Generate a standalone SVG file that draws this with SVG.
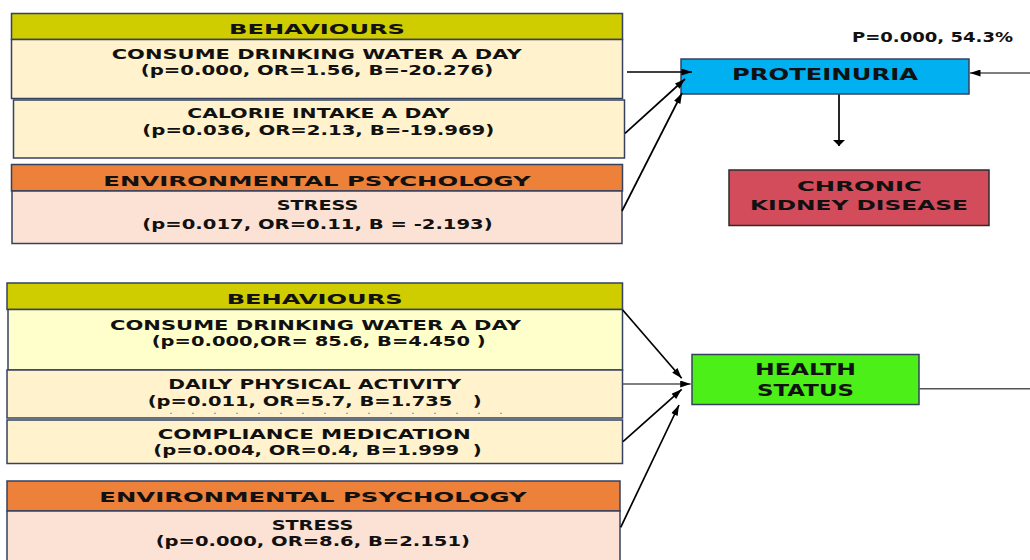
<svg xmlns="http://www.w3.org/2000/svg" width="1030" height="560" viewBox="0 0 1030 560">
<style>
  .box { stroke: #34425f; stroke-width: 1.5; }
  .hdr-b { fill: #cfcc00; }
  .hdr-e { fill: #ed8139; }
  .body-y { fill: #fff2cc; }
  .body-ly { fill: #ffffcc; }
  .body-p { fill: #fbe2d5; }
  text { font-family: "DejaVu Sans", "Liberation Sans", sans-serif; font-weight: bold; fill: #111; font-size: 14.5px; }
  .lg { font-size: 15.5px; }
  .sm { font-size: 13.5px; }
  .conn { stroke: #000; stroke-width: 1.7; fill: none; }
  .conn-g { stroke: #555; stroke-width: 1.4; fill: none; }
</style>
<defs>
  <marker id="ah" viewBox="0 0 12 8" refX="12" refY="4" markerWidth="12" markerHeight="7" markerUnits="userSpaceOnUse" orient="auto">
    <path d="M0,0 L12,4 L0,8 z" fill="#000"/>
  </marker>
  <marker id="ahd" viewBox="0 0 6 12" refX="6" refY="6" markerWidth="6" markerHeight="12" markerUnits="userSpaceOnUse" orient="auto">
    <path d="M0,0 L6,6 L0,12 z" fill="#000"/>
  </marker>
</defs>

<!-- TOP MODEL -->
<g id="top-behaviours">
  <rect class="box hdr-b" x="11.5" y="13.5" width="611" height="26"/>
  <text x="229" y="33.5" textLength="176" lengthAdjust="spacingAndGlyphs">BEHAVIOURS</text>
</g>
<g id="top-water">
  <rect class="box body-y" x="11.5" y="39.5" width="611" height="59"/>
  <text x="111.7" y="59" textLength="410" lengthAdjust="spacingAndGlyphs">CONSUME DRINKING WATER A DAY</text>
  <text x="140.7" y="75" textLength="352.6" lengthAdjust="spacingAndGlyphs">(p=0.000, OR=1.56, B=-20.276)</text>
</g>
<g id="top-calorie">
  <rect class="box body-y" x="13.5" y="100" width="611" height="58"/>
  <text x="187.3" y="117.7" textLength="262.7" lengthAdjust="spacingAndGlyphs">CALORIE INTAKE A DAY</text>
  <text x="142.3" y="134.5" textLength="352" lengthAdjust="spacingAndGlyphs">(p=0.036, OR=2.13, B=-19.969)</text>
</g>
<g id="top-env">
  <rect class="box hdr-e" x="11.5" y="164.5" width="611" height="26.5"/>
  <text x="103.3" y="185.5" textLength="427.4" lengthAdjust="spacingAndGlyphs">ENVIRONMENTAL PSYCHOLOGY</text>
</g>
<g id="top-stress">
  <rect class="box body-p" x="12" y="191" width="610" height="52.5"/>
  <text x="276.7" y="209.5" textLength="81.6" lengthAdjust="spacingAndGlyphs">STRESS</text>
  <text x="142.3" y="229.3" textLength="350.4" lengthAdjust="spacingAndGlyphs" xml:space="preserve">(p=0.017, OR=0.11, B = -2.193)</text>
</g>

<g id="proteinuria-label">
  <text class="sm" x="852" y="41.7" textLength="161" lengthAdjust="spacingAndGlyphs">P=0.000, 54.3%</text>
</g>
<g id="proteinuria">
  <rect class="box" x="681" y="59" width="288" height="35" fill="#00b0f0"/>
  <text class="lg" x="732" y="79.5" textLength="186" lengthAdjust="spacingAndGlyphs">PROTEINURIA</text>
</g>
<g id="ckd">
  <rect x="729" y="170" width="260" height="55.5" fill="#d24c5b" stroke="#2b2b2b" stroke-width="1.5"/>
  <text x="797" y="190.7" textLength="125" lengthAdjust="spacingAndGlyphs">CHRONIC</text>
  <text x="750" y="210" textLength="218" lengthAdjust="spacingAndGlyphs">KIDNEY DISEASE</text>
</g>

<!-- BOTTOM MODEL -->
<g id="bot-behaviours">
  <rect class="box hdr-b" x="7" y="283" width="615.5" height="26.5"/>
  <text x="226.7" y="304" textLength="176" lengthAdjust="spacingAndGlyphs">BEHAVIOURS</text>
</g>
<g id="bot-water">
  <rect class="box body-ly" x="8" y="309.5" width="614.5" height="60.5"/>
  <text x="110" y="329.5" textLength="411" lengthAdjust="spacingAndGlyphs">CONSUME DRINKING WATER A DAY</text>
  <text x="151.7" y="346" textLength="334" lengthAdjust="spacingAndGlyphs" xml:space="preserve">(p=0.000,OR= 85.6, B=4.450 )</text>
</g>
<g id="bot-activity">
  <rect class="box body-y" x="7" y="370" width="615.5" height="48"/>
  <text x="168.3" y="389.3" textLength="292.7" lengthAdjust="spacingAndGlyphs">DAILY PHYSICAL ACTIVITY</text>
  <text x="147.7" y="406" textLength="334" lengthAdjust="spacingAndGlyphs" xml:space="preserve">(p=0.011, OR=5.7, B=1.735   )</text>
  <line x1="170" y1="413.3" x2="505" y2="413.3" stroke="#5b9bd5" stroke-width="1" stroke-dasharray="2,20"/>
</g>
<g id="bot-compliance">
  <rect class="box body-y" x="7" y="420" width="615.5" height="43.5"/>
  <text x="157.7" y="439" textLength="313" lengthAdjust="spacingAndGlyphs">COMPLIANCE MEDICATION</text>
  <text x="153.3" y="454.5" textLength="328.4" lengthAdjust="spacingAndGlyphs" xml:space="preserve">(p=0.004, OR=0.4, B=1.999  )</text>
</g>
<g id="bot-env">
  <rect class="box hdr-e" x="7" y="481" width="613" height="30"/>
  <text x="99.3" y="501.7" textLength="427.4" lengthAdjust="spacingAndGlyphs">ENVIRONMENTAL PSYCHOLOGY</text>
</g>
<g id="bot-stress">
  <rect class="box body-p" x="7" y="511" width="613" height="60"/>
  <text x="271.7" y="530" textLength="81.6" lengthAdjust="spacingAndGlyphs">STRESS</text>
  <text x="155.7" y="546" textLength="314.3" lengthAdjust="spacingAndGlyphs">(p=0.000, OR=8.6, B=2.151)</text>
</g>

<g id="health-status">
  <rect class="box" x="692" y="354.5" width="227" height="50" fill="#4cef17"/>
  <text class="lg" x="755" y="375.3" textLength="101" lengthAdjust="spacingAndGlyphs">HEALTH</text>
  <text class="lg" x="757" y="396" textLength="97" lengthAdjust="spacingAndGlyphs">STATUS</text>
</g>

<!-- CONNECTORS -->
<g id="connectors">
  <line class="conn" x1="627" y1="72" x2="692" y2="72" marker-end="url(#ah)"/>
  <line class="conn" x1="625" y1="133.3" x2="685" y2="79" marker-end="url(#ah)"/>
  <line class="conn" x1="622" y1="211" x2="682" y2="93" marker-end="url(#ah)"/>
  <line class="conn-g" x1="1030" y1="73" x2="970" y2="73" marker-end="url(#ah)"/>
  <line class="conn" x1="839" y1="94.5" x2="839" y2="146" stroke-width="2" marker-end="url(#ahd)"/>

  <line class="conn" x1="622.7" y1="310" x2="681.7" y2="378.3" marker-end="url(#ah)"/>
  <line class="conn-g" x1="622.5" y1="384" x2="690.7" y2="384" marker-end="url(#ah)"/>
  <line class="conn" x1="623" y1="441.7" x2="681.7" y2="389.3" marker-end="url(#ah)"/>
  <line class="conn" x1="620.7" y1="527.3" x2="679" y2="405" marker-end="url(#ah)"/>
  <line class="conn-g" x1="919" y1="388.7" x2="1030" y2="388.7"/>
</g>
</svg>
